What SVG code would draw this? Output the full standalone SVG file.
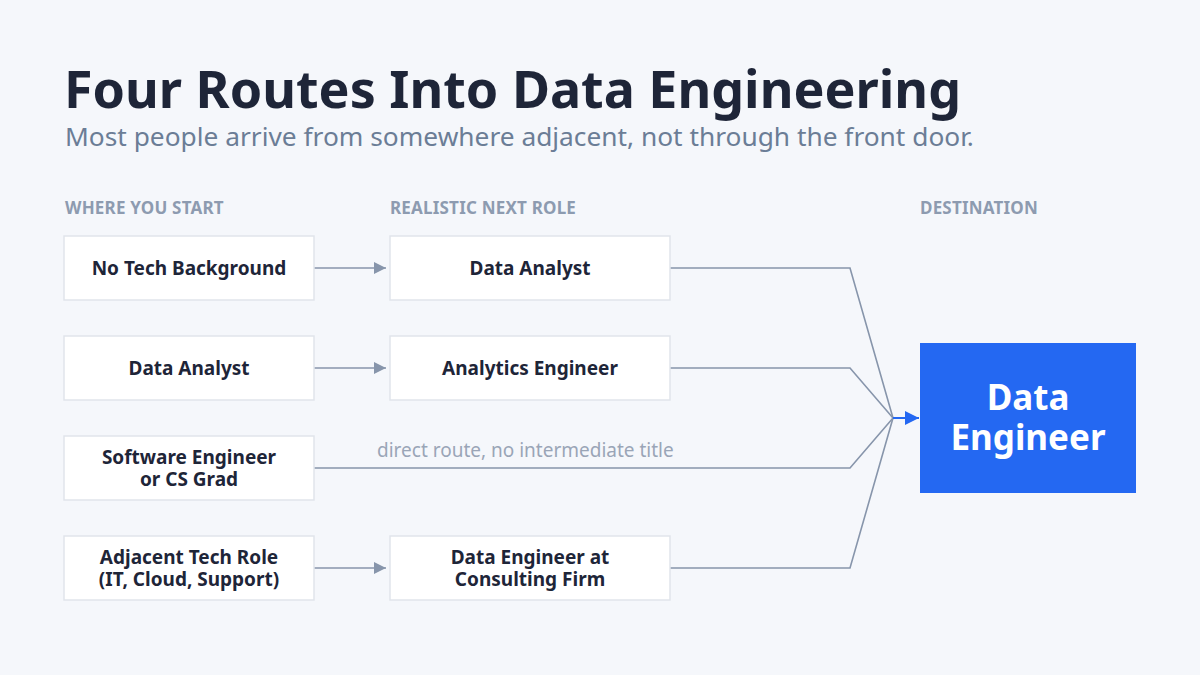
<svg xmlns="http://www.w3.org/2000/svg" width="1200" height="675" viewBox="0 0 1200 675">
<defs>
<style>
.title{font-family:"Noto Sans","Liberation Sans",sans-serif;font-weight:700;fill:#1e2538}
.sub{font-family:"Noto Sans","Liberation Sans",sans-serif;fill:#6b7d96}
.hdr{font-family:"Noto Sans","Liberation Sans",sans-serif;font-weight:700;font-size:17px;fill:#8d9bb0;letter-spacing:0.2px}
.box{fill:#ffffff;stroke:#e1e5eb;stroke-width:1.5}
.lbl{font-family:"Noto Sans","Liberation Sans",sans-serif;font-weight:700;font-size:19px;fill:#1e2538;text-anchor:middle}
.conn{fill:none;stroke:#8795ab;stroke-width:1.6}
.note{font-family:"Noto Sans","Liberation Sans",sans-serif;font-size:19px;fill:#9aa5b7}
.dest{font-family:"Noto Sans","Liberation Sans",sans-serif;font-weight:700;font-size:35px;fill:#ffffff;text-anchor:middle}
</style>
<marker id="ag" viewBox="0 0 10 10" refX="10" refY="5" markerWidth="12" markerHeight="12" markerUnits="userSpaceOnUse" orient="auto">
<path d="M0,0 L10,5 L0,10 z" fill="#8795ab"/>
</marker>
<marker id="ab" viewBox="0 0 10 10" refX="10" refY="5" markerWidth="14" markerHeight="14" markerUnits="userSpaceOnUse" orient="auto">
<path d="M0,0 L10,5 L0,10 z" fill="#2468f2"/>
</marker>
</defs>
<rect x="0" y="0" width="1200" height="675" fill="#f5f7fb"/>
<text class="title" x="64" y="108" font-size="52">Four Routes Into Data Engineering</text>
<text class="sub" x="65" y="146" font-size="26.3">Most people arrive from somewhere adjacent, not through the front door.</text>
<text class="hdr" x="65" y="214">WHERE YOU START</text>
<text class="hdr" x="390" y="214">REALISTIC NEXT ROLE</text>
<text class="hdr" x="920" y="214">DESTINATION</text>
<g id="connectors">
<line class="conn" x1="314" y1="268" x2="386" y2="268" marker-end="url(#ag)"/>
<line class="conn" x1="314" y1="368" x2="386" y2="368" marker-end="url(#ag)"/>
<line class="conn" x1="314" y1="568" x2="386" y2="568" marker-end="url(#ag)"/>
<polyline class="conn" points="670,268 850,268 893,418"/>
<polyline class="conn" points="670,368 850,368 893,418"/>
<polyline class="conn" points="314,468 850,468 893,418"/>
<polyline class="conn" points="670,568 850,568 893,418"/>
<line x1="893" y1="418" x2="919" y2="418" stroke="#2468f2" stroke-width="2" marker-end="url(#ab)"/>
<text class="note" x="377" y="457">direct route, no intermediate title</text>
</g>
<g id="start-notech"><rect class="box" x="64" y="236" width="250" height="64"/><text class="lbl" x="189" y="275">No Tech Background</text></g>
<g id="start-analyst"><rect class="box" x="64" y="336" width="250" height="64"/><text class="lbl" x="189" y="375">Data Analyst</text></g>
<g id="start-swe"><rect class="box" x="64" y="436" width="250" height="64"/><text class="lbl" x="189" y="464">Software Engineer</text><text class="lbl" x="189" y="486">or CS Grad</text></g>
<g id="start-adjacent"><rect class="box" x="64" y="536" width="250" height="64"/><text class="lbl" x="189" y="564">Adjacent Tech Role</text><text class="lbl" x="189" y="586">(IT, Cloud, Support)</text></g>
<g id="next-analyst"><rect class="box" x="390" y="236" width="280" height="64"/><text class="lbl" x="530" y="275">Data Analyst</text></g>
<g id="next-ae"><rect class="box" x="390" y="336" width="280" height="64"/><text class="lbl" x="530" y="375">Analytics Engineer</text></g>
<g id="next-consulting"><rect class="box" x="390" y="536" width="280" height="64"/><text class="lbl" x="530" y="564">Data Engineer at</text><text class="lbl" x="530" y="586">Consulting Firm</text></g>
<g id="dest-de"><rect x="920" y="343" width="216" height="150" fill="#2468f2"/><text class="dest" x="1028" y="410">Data</text><text class="dest" x="1028" y="450">Engineer</text></g>
</svg>
